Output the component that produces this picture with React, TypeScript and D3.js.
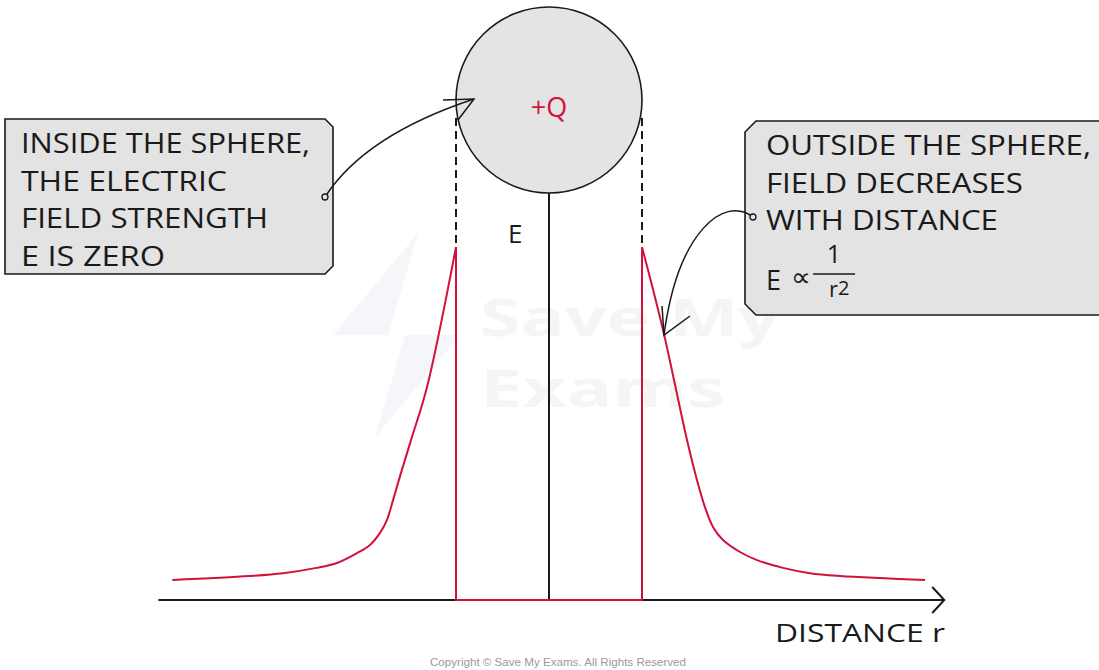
import React from 'react';
import * as d3 from 'd3';

// distance r in units of the sphere radius, field E relative to the surface value
const leftR = [-4.05, -3.22, -2.86, -2.5, -2.28, -2.065, -1.925, -1.817, -1.742, -1.677, -1.602, -1.484, -1.312, -1.0];
const leftE = [0.057, 0.068, 0.076, 0.091, 0.105, 0.133, 0.156, 0.19, 0.227, 0.283, 0.351, 0.453, 0.603, 1.0];
const rightR = [1.0, 1.226, 1.484, 1.591, 1.677, 1.763, 1.871, 2.054, 2.237, 2.516, 2.806, 3.129, 3.559, 4.043];
const rightE = [1.0, 0.765, 0.453, 0.34, 0.263, 0.207, 0.17, 0.136, 0.113, 0.091, 0.076, 0.068, 0.062, 0.057];
const insideR = [-1, -1, 1, 1];
const insideE = [1, 0, 0, 1];

const leftNote = ['INSIDE THE SPHERE,', 'THE ELECTRIC', 'FIELD STRENGTH', 'E IS ZERO'];
const leftNoteWidths = [289, 206, 247, 144];
const rightNote = ['OUTSIDE THE SPHERE,', 'FIELD DECREASES', 'WITH DISTANCE'];
const rightNoteWidths = [325, 257, 232];

const RED = '#d3113b';
const INK = '#1a1a1a';
const FONT = '"Open Sans", "DejaVu Sans", sans-serif';
const WEIGHT = 400;

const W = 1099;
const H = 670;

export default function App() {
  const x = d3.scaleLinear().domain([-1, 1]).range([456, 642]);
  const y = d3.scaleLinear().domain([0, 1]).range([600, 247]);

  const smooth = d3.line<[number, number]>()
    .x(d => x(d[0]))
    .y(d => y(d[1]))
    .curve(d3.curveCatmullRom.alpha(0.5));
  const straight = d3.line<[number, number]>()
    .x(d => x(d[0]))
    .y(d => y(d[1]));

  const zip = (a: number[], b: number[]) => a.map((v, i) => [v, b[i]] as [number, number]);

  const cx = x(0);
  const rad = x(1) - x(0);
  const cy = 100;
  const axisY = y(0);
  const axisStart = x(-4.2);
  const axisEnd = x(4.25);

  return (
    <div style={{ position: 'absolute', left: 0, top: 0 }}>
      <svg width={W} height={H} style={{ display: 'block', background: '#fff' }}>
        {/* faint watermark */}
        <polygon points="418,233 333,335 405,335 375,437 460,335 388,335" fill="#f5f6fa" />
        <text x={480} y={336} fontFamily={FONT} fontWeight="bold" fontSize={52} fill="#f5f5f5"
          textLength={300} lengthAdjust="spacingAndGlyphs">Save My</text>
        <text x={480} y={407} fontFamily={FONT} fontWeight="bold" fontSize={52} fill="#f5f5f5"
          textLength={245} lengthAdjust="spacingAndGlyphs">Exams</text>

        {/* sphere */}
        <circle cx={cx} cy={cy} r={rad} fill="#e4e4e4" stroke={INK} strokeWidth={1.6} />
        <text x={cx} y={117} textAnchor="middle" fontFamily={FONT} fontWeight={400} fontSize={27} fill={RED}>+Q</text>

        {/* projection lines */}
        {[-1, 1].map(r => (
          <line key={r} x1={x(r)} x2={x(r)} y1={118} y2={y(1) - 2}
            stroke={INK} strokeWidth={2} strokeDasharray="8 5" />
        ))}

        {/* E axis */}
        <line x1={cx} x2={cx} y1={cy + rad} y2={axisY} stroke={INK} strokeWidth={2} />
        <text x={508} y={243} fontFamily={FONT} fontWeight={WEIGHT} fontSize={26} fill={INK}>E</text>

        {/* distance axis */}
        <line x1={axisStart} x2={axisEnd} y1={axisY} y2={axisY} stroke={INK} strokeWidth={2} />
        <path d={`M${axisEnd - 12},${axisY - 13} L${axisEnd},${axisY} L${axisEnd - 12},${axisY + 13}`}
          fill="none" stroke={INK} strokeWidth={2} />
        <text x={775} y={642} fontFamily={FONT} fontWeight={WEIGHT} fontSize={26} fill={INK}
          textLength={170} lengthAdjust="spacingAndGlyphs">DISTANCE r</text>

        {/* field strength */}
        <path d={straight(zip(insideR, insideE)) || ''} fill="none" stroke={RED} strokeWidth={2} />
        <path d={smooth(zip(leftR, leftE)) || ''} fill="none" stroke={RED} strokeWidth={2} />
        <path d={smooth(zip(rightR, rightE)) || ''} fill="none" stroke={RED} strokeWidth={2} />

        {/* left callout */}
        <path d="M5,119 H325 L333,127 V266 L325,274 H5 Z" fill="#e3e3e3" stroke={INK} strokeWidth={1.6} />
        {leftNote.map((t, i) => (
          <text key={t} x={21} y={153 + i * 37.5} fontFamily={FONT} fontWeight={WEIGHT} fontSize={28} fill={INK}
            textLength={leftNoteWidths[i]} lengthAdjust="spacingAndGlyphs">{t}</text>
        ))}
        <path d="M325,197 Q365,135 474,99" fill="none" stroke={INK} strokeWidth={1.5} />
        <path d="M443,100 L474,99 L458,120" fill="none" stroke={INK} strokeWidth={1.5} />
        <circle cx={325} cy={197} r={3} fill="#e3e3e3" stroke={INK} strokeWidth={1.3} />

        {/* right callout */}
        <path d="M756,121 H1105 V315 H756 L745,304 V132 Z" fill="#e3e3e3" stroke={INK} strokeWidth={1.6} />
        {rightNote.map((t, i) => (
          <text key={t} x={766} y={155 + i * 37.5} fontFamily={FONT} fontWeight={WEIGHT} fontSize={28} fill={INK}
            textLength={rightNoteWidths[i]} lengthAdjust="spacingAndGlyphs">{t}</text>
        ))}
        <text x={766} y={290} fontFamily={FONT} fontWeight={WEIGHT} fontSize={27} fill={INK}>E</text>
        <text x={791} y={286} fontFamily={FONT} fontWeight={WEIGHT} fontSize={26} fill={INK}
          textLength={20} lengthAdjust="spacingAndGlyphs">∝</text>
        <text x={834} y={263} textAnchor="middle" fontFamily={FONT} fontWeight={WEIGHT} fontSize={25} fill={INK}>1</text>
        <line x1={813} x2={855} y1={274} y2={274} stroke={INK} strokeWidth={1.5} />
        <text x={829} y={297} fontFamily={FONT} fontWeight={WEIGHT} fontSize={22} fill={INK}>
          r<tspan fontSize={20} dy={-2}>2</tspan>
        </text>
        <path d="M753,217 C725,195 678,230 664,335" fill="none" stroke={INK} strokeWidth={1.5} />
        <path d="M690,316 L664,335 L662,306" fill="none" stroke={INK} strokeWidth={1.5} />
        <circle cx={753} cy={217} r={3} fill="#e3e3e3" stroke={INK} strokeWidth={1.3} />

        <text x={558} y={666} textAnchor="middle" fontFamily='"Liberation Sans Narrow", "Liberation Sans", sans-serif'
          fontSize={11} fill="#9a9a9a" textLength={256} lengthAdjust="spacingAndGlyphs">
          Copyright © Save My Exams. All Rights Reserved
        </text>
      </svg>
    </div>
  );
}
